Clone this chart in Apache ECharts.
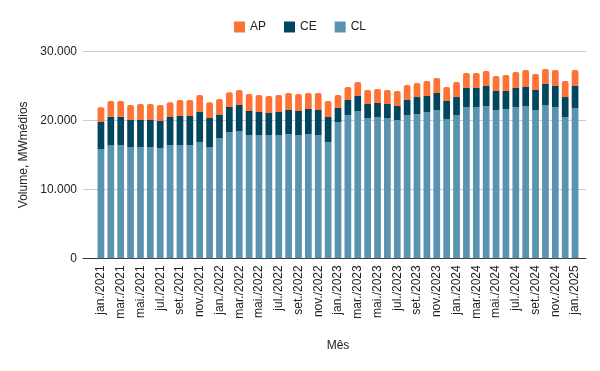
<!DOCTYPE html>
<html>
<head>
<meta charset="utf-8">
<script src="https://cdn.jsdelivr.net/npm/echarts@6/dist/echarts.min.js"></script>
<style>html,body{margin:0;padding:0;background:#fff}#c{width:600px;height:371px}</style>
</head>
<body>
<div id="c"></div>
<script>
const months = ['jan.','fev.','mar.','abr.','mai.','jun.','jul.','ago.','set.','out.','nov.','dez.'];
const categories = [];
for (let y = 2021; y <= 2025; y++) for (let m = 0; m < 12; m++) { if (y === 2025 && m > 0) break; categories.push(months[m] + '/' + y); }

const CL = [15840,16420,16420,16130,16130,16130,15990,16420,16420,16420,16860,16130,
            17430,18300,18450,17870,17870,17870,17870,18010,17870,18010,17870,16860,
            19750,20770,21350,20330,20480,20330,20040,20770,20910,21200,21490,20190,
            20770,21930,21930,22070,21490,21640,21930,22070,21490,22220,21930,20480,
            21780];
const CE = [3910,4100,4100,3910,3910,3910,3910,4060,4200,4200,4340,4200,
            3340,3630,3770,3480,3330,3190,3330,3480,3480,3630,3620,3620,
            2030,2170,2170,2030,2030,2030,2030,2170,2460,2320,2470,2610,
            2600,2750,2750,2900,2760,2610,2750,2760,2900,3040,3040,2890,
            3190];
const AP = [2130,2280,2280,2180,2320,2320,2320,2120,2320,2320,2450,2270,
            2320,2150,2170,2460,2470,2460,2470,2470,2460,2320,2470,2320,
            1870,1890,2030,2030,2030,2030,2180,2180,2040,2170,2170,2030,
            2180,2170,2170,2170,2170,2310,2320,2460,2320,2170,2320,2320,
            2320];
const yTicks = [0, 10000, 20000, 30000];

const colors = {AP: '#ff7235', CE: '#01465f', CL: '#5a92b1'};
const fmt = v => v === 0 ? '0' : v.toLocaleString('de-DE');
const font = 'Arial, "Liberation Sans", sans-serif';

const chart = echarts.init(document.getElementById('c'), null, {renderer: 'canvas'});
chart.setOption({
  animation: false,
  textStyle: {fontFamily: font},
  legend: {
    top: 16, left: 'center', icon: 'rect', itemWidth: 11, itemHeight: 11, itemGap: 18,
    data: ['AP', 'CE', 'CL'],
    textStyle: {fontSize: 12, color: '#222', fontFamily: font}
  },
  grid: [
    {left: 83, right: 14, top: 51.3, bottom: 112.7},
    {left: 96, right: 20, top: 51.3, bottom: 112.7}
  ],
  xAxis: [
    {gridIndex: 0, type: 'value', min: 0, max: 1,
     axisLine: {show: true, onZero: false, lineStyle: {color: '#333', width: 1}},
     axisTick: {show: false}, axisLabel: {show: false}, splitLine: {show: false}},
    {gridIndex: 1, type: 'category', data: categories,
     name: 'Mês', nameLocation: 'middle', nameGap: 81,
     nameTextStyle: {fontSize: 12, color: '#222', fontFamily: font},
     axisLine: {show: false}, axisTick: {show: false},
     axisLabel: {interval: 1, rotate: 90, fontSize: 12, color: '#222', margin: 7, fontFamily: font}}
  ],
  yAxis: [
    {gridIndex: 0, type: 'value', min: yTicks[0], max: yTicks[yTicks.length - 1], interval: 10000,
     name: 'Volume, MWmédios', nameLocation: 'middle', nameGap: 49,
     nameTextStyle: {fontSize: 12, color: '#222', fontFamily: font},
     axisLine: {show: false}, axisTick: {show: false},
     axisLabel: {formatter: fmt, fontSize: 12, color: '#222', margin: 6, fontFamily: font},
     splitLine: {lineStyle: {color: '#cccccc', width: 1}}},
    {gridIndex: 1, type: 'value', min: yTicks[0], max: yTicks[yTicks.length - 1], interval: 10000,
     show: false, splitLine: {show: false}}
  ],
  series: [
    {name: 'CL', type: 'bar', stack: 'v', xAxisIndex: 1, yAxisIndex: 1, data: CL,
     barWidth: '68%', itemStyle: {color: colors.CL}},
    {name: 'CE', type: 'bar', stack: 'v', xAxisIndex: 1, yAxisIndex: 1, data: CE,
     barWidth: '68%', itemStyle: {color: colors.CE}},
    {name: 'AP', type: 'bar', stack: 'v', xAxisIndex: 1, yAxisIndex: 1, data: AP,
     barWidth: '68%', itemStyle: {color: colors.AP, borderRadius: [2, 2, 0, 0]}}
  ]
});
</script>
</body>
</html>
